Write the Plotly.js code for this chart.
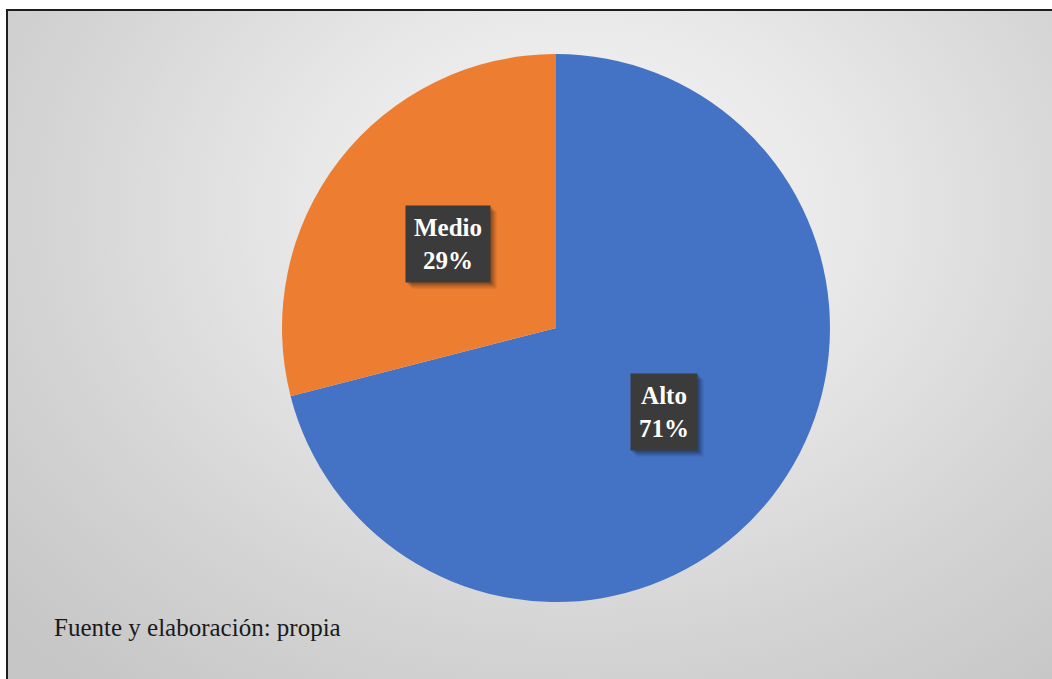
<!DOCTYPE html>
<html>
<head>
<meta charset="utf-8">
<script src="https://cdn.plot.ly/plotly-3.0.1.min.js"></script>
<style>
  html, body { margin: 0; padding: 0; background: #ffffff; }
  #wrap { position: relative; width: 1052px; height: 679px; overflow: hidden; background: #ffffff; }
  #frame {
    position: absolute; left: 6px; top: 9px; width: 1100px; height: 720px;
    border: 2px solid #1e1e1e;
    background: radial-gradient(ellipse 70% 85% at 52% 28%, #f7f7f7 0%, #e8e8e8 35%, #d4d4d4 70%, #c6c6c6 100%);
  }
  #chart { position: absolute; left: 0; top: 0; width: 1052px; height: 679px; }
</style>
</head>
<body>
<div id="wrap">
  <div id="frame"></div>
  <div id="chart"></div>
</div>
<script>
  const categories = ["Alto", "Medio"];
  const values = [71, 29];
  const colors = ["#4472C4", "#ED7D31"];
  const sourceText = "Fuente y elaboración: propia";

  const W = 1052, H = 679;
  const cx = 556, cy = 328, R = 274;
  const domainX = [(cx - R) / W, (cx + R) / W];
  const domainY = [1 - (cy + R) / H, 1 - (cy - R) / H];

  const total = values.reduce((a, b) => a + b, 0);
  const annotations = [];
  let start = 0;
  values.forEach((v, i) => {
    const mid = (start + v / 2) / total * 2 * Math.PI; // clockwise from top
    start += v;
    const px = cx + 0.5 * R * Math.sin(mid);
    const py = cy - 0.5 * R * Math.cos(mid);
    const pct = Math.round(v / total * 100) + "%";
    annotations.push({
      x: px / W, y: 1 - py / H, xref: "paper", yref: "paper",
      text: "<b>" + categories[i] + "<br>" + pct + "</b>",
      showarrow: false, align: "center",
      font: { family: "Liberation Serif, Times New Roman, serif", size: 25, color: "#ffffff" },
      bgcolor: "#3b3b3b", borderpad: 8
    });
  });

  annotations.push({
    x: 52 / W, y: 1 - 627 / H, xref: "paper", yref: "paper",
    xanchor: "left", yanchor: "middle", showarrow: false,
    text: sourceText,
    font: { family: "Liberation Serif, Times New Roman, serif", size: 25, color: "#1a1a1a" }
  });

  const data = [{
    type: "pie",
    labels: categories,
    values: values,
    marker: { colors: colors, line: { width: 0 } },
    sort: false,
    direction: "clockwise",
    rotation: 0,
    textinfo: "none",
    hoverinfo: "label+percent",
    domain: { x: domainX, y: domainY },
    showlegend: false
  }];

  const layout = {
    width: W, height: H,
    margin: { l: 0, r: 0, t: 0, b: 0 },
    paper_bgcolor: "rgba(0,0,0,0)",
    plot_bgcolor: "rgba(0,0,0,0)",
    showlegend: false,
    annotations: annotations
  };

  Plotly.newPlot("chart", data, layout, { displayModeBar: false, staticPlot: true }).then(gd => {
    // soft drop shadows behind the label boxes, sized from the rendered boxes
    const chartBox = gd.getBoundingClientRect();
    const shapes = [];
    const rects = gd.querySelectorAll(".annotation .bg");
    rects.forEach((r, idx) => {
      if (idx >= categories.length) return;
      const b = r.getBoundingClientRect();
      const x0 = b.left - chartBox.left, x1 = b.right - chartBox.left;
      const y0 = b.top - chartBox.top, y1 = b.bottom - chartBox.top;
      [[6, 0.10], [4, 0.14], [2, 0.18]].forEach(([o, a]) => {
        shapes.push({
          type: "rect", xref: "paper", yref: "paper", layer: "above",
          x0: (x0 + o) / W, x1: (x1 + o) / W,
          y0: 1 - (y1 + o) / H, y1: 1 - (y0 + o) / H,
          fillcolor: "rgba(0,0,0," + a + ")", line: { width: 0 }
        });
      });
    });
    return Plotly.relayout(gd, { shapes: shapes });
  });
</script>
</body>
</html>
